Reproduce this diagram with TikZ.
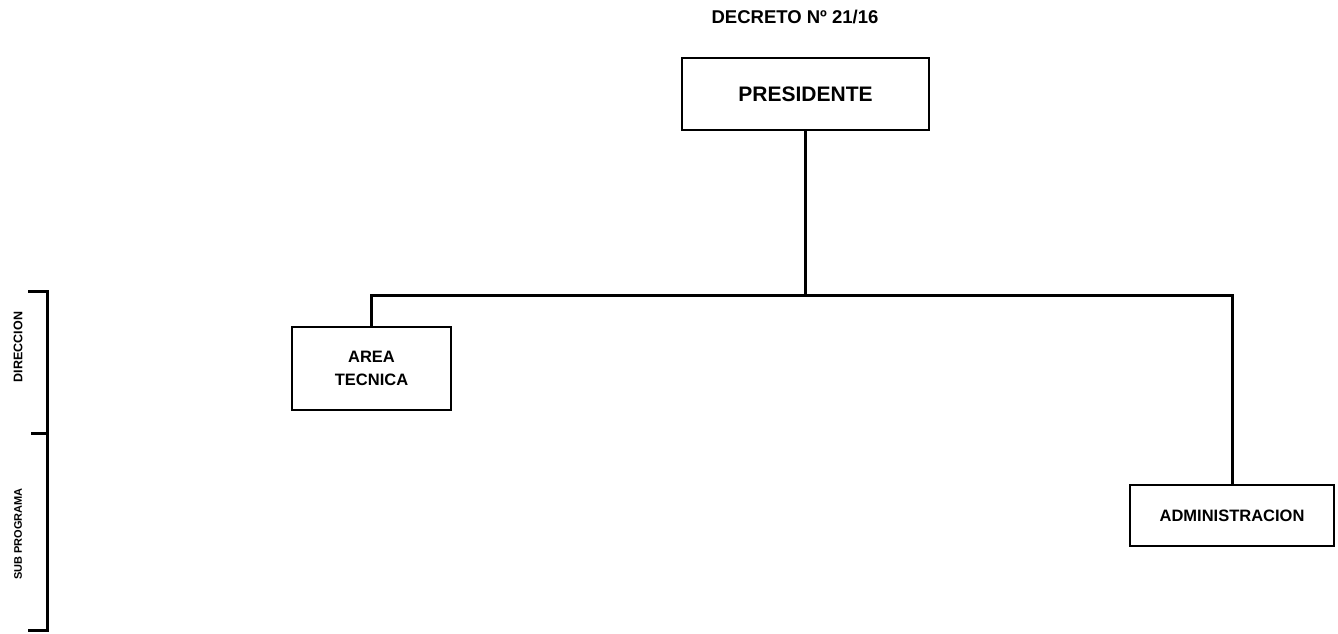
\documentclass[tikz,border=0pt]{standalone}
\usepackage{fontspec}
\setmainfont{Liberation Sans}
\begin{document}
\begin{tikzpicture}[x=1pt,y=-1pt,
  orgbox/.style={draw=black, line width=1.8pt, align=center, inner sep=0pt, font=\bfseries\fontsize{16.5}{23}\selectfont},
  conn/.style={line width=3pt},
  brk/.style={line width=3pt},
  side/.style={font=\bfseries\fontsize{11}{12}\selectfont, rotate=90}]
\useasboundingbox (0,0) rectangle (1338,633);
\node[font=\bfseries\fontsize{18.5}{20}\selectfont] (title) at (795,17) {DECRETO Nº 21/16};
\node[orgbox, minimum width=247pt, minimum height=72pt, font=\bfseries\fontsize{21}{24}\selectfont] (pres) at (805.5,94) {PRESIDENTE};
\node[orgbox, minimum width=159pt, minimum height=83pt] (area) at (371.5,368.5) {AREA\\TECNICA};
\node[orgbox, minimum width=204pt, minimum height=61pt] (admin) at (1232,515.5) {ADMINISTRACION};
\coordinate (hl) at (370,295);
\coordinate (hr) at (1234,295);
\draw[conn] (pres.south) -- (pres.south |- hl);
\draw[conn] (hl) -- (hr);
\draw[conn] (area.north) -- (area.north |- hl);
\draw[conn] (admin.north) -- (admin.north |- hr);
% side bracket
\coordinate (bt) at (28,291);
\coordinate (btc) at (47,291);
\coordinate (bm) at (31,433);
\coordinate (bmc) at (47,433);
\coordinate (bb) at (28,630);
\coordinate (bbc) at (47,630);
\draw[brk] (bt) -- (btc) -- (bbc) -- (bb);
\draw[brk] (bm) -- (bmc);
\node[side, font=\bfseries\fontsize{12.5}{13}\selectfont] (dir) at (18,347) {DIRECCION};
\node[side] (sub) at (18,534) {SUB PROGRAMA};
\end{tikzpicture}
\end{document}
